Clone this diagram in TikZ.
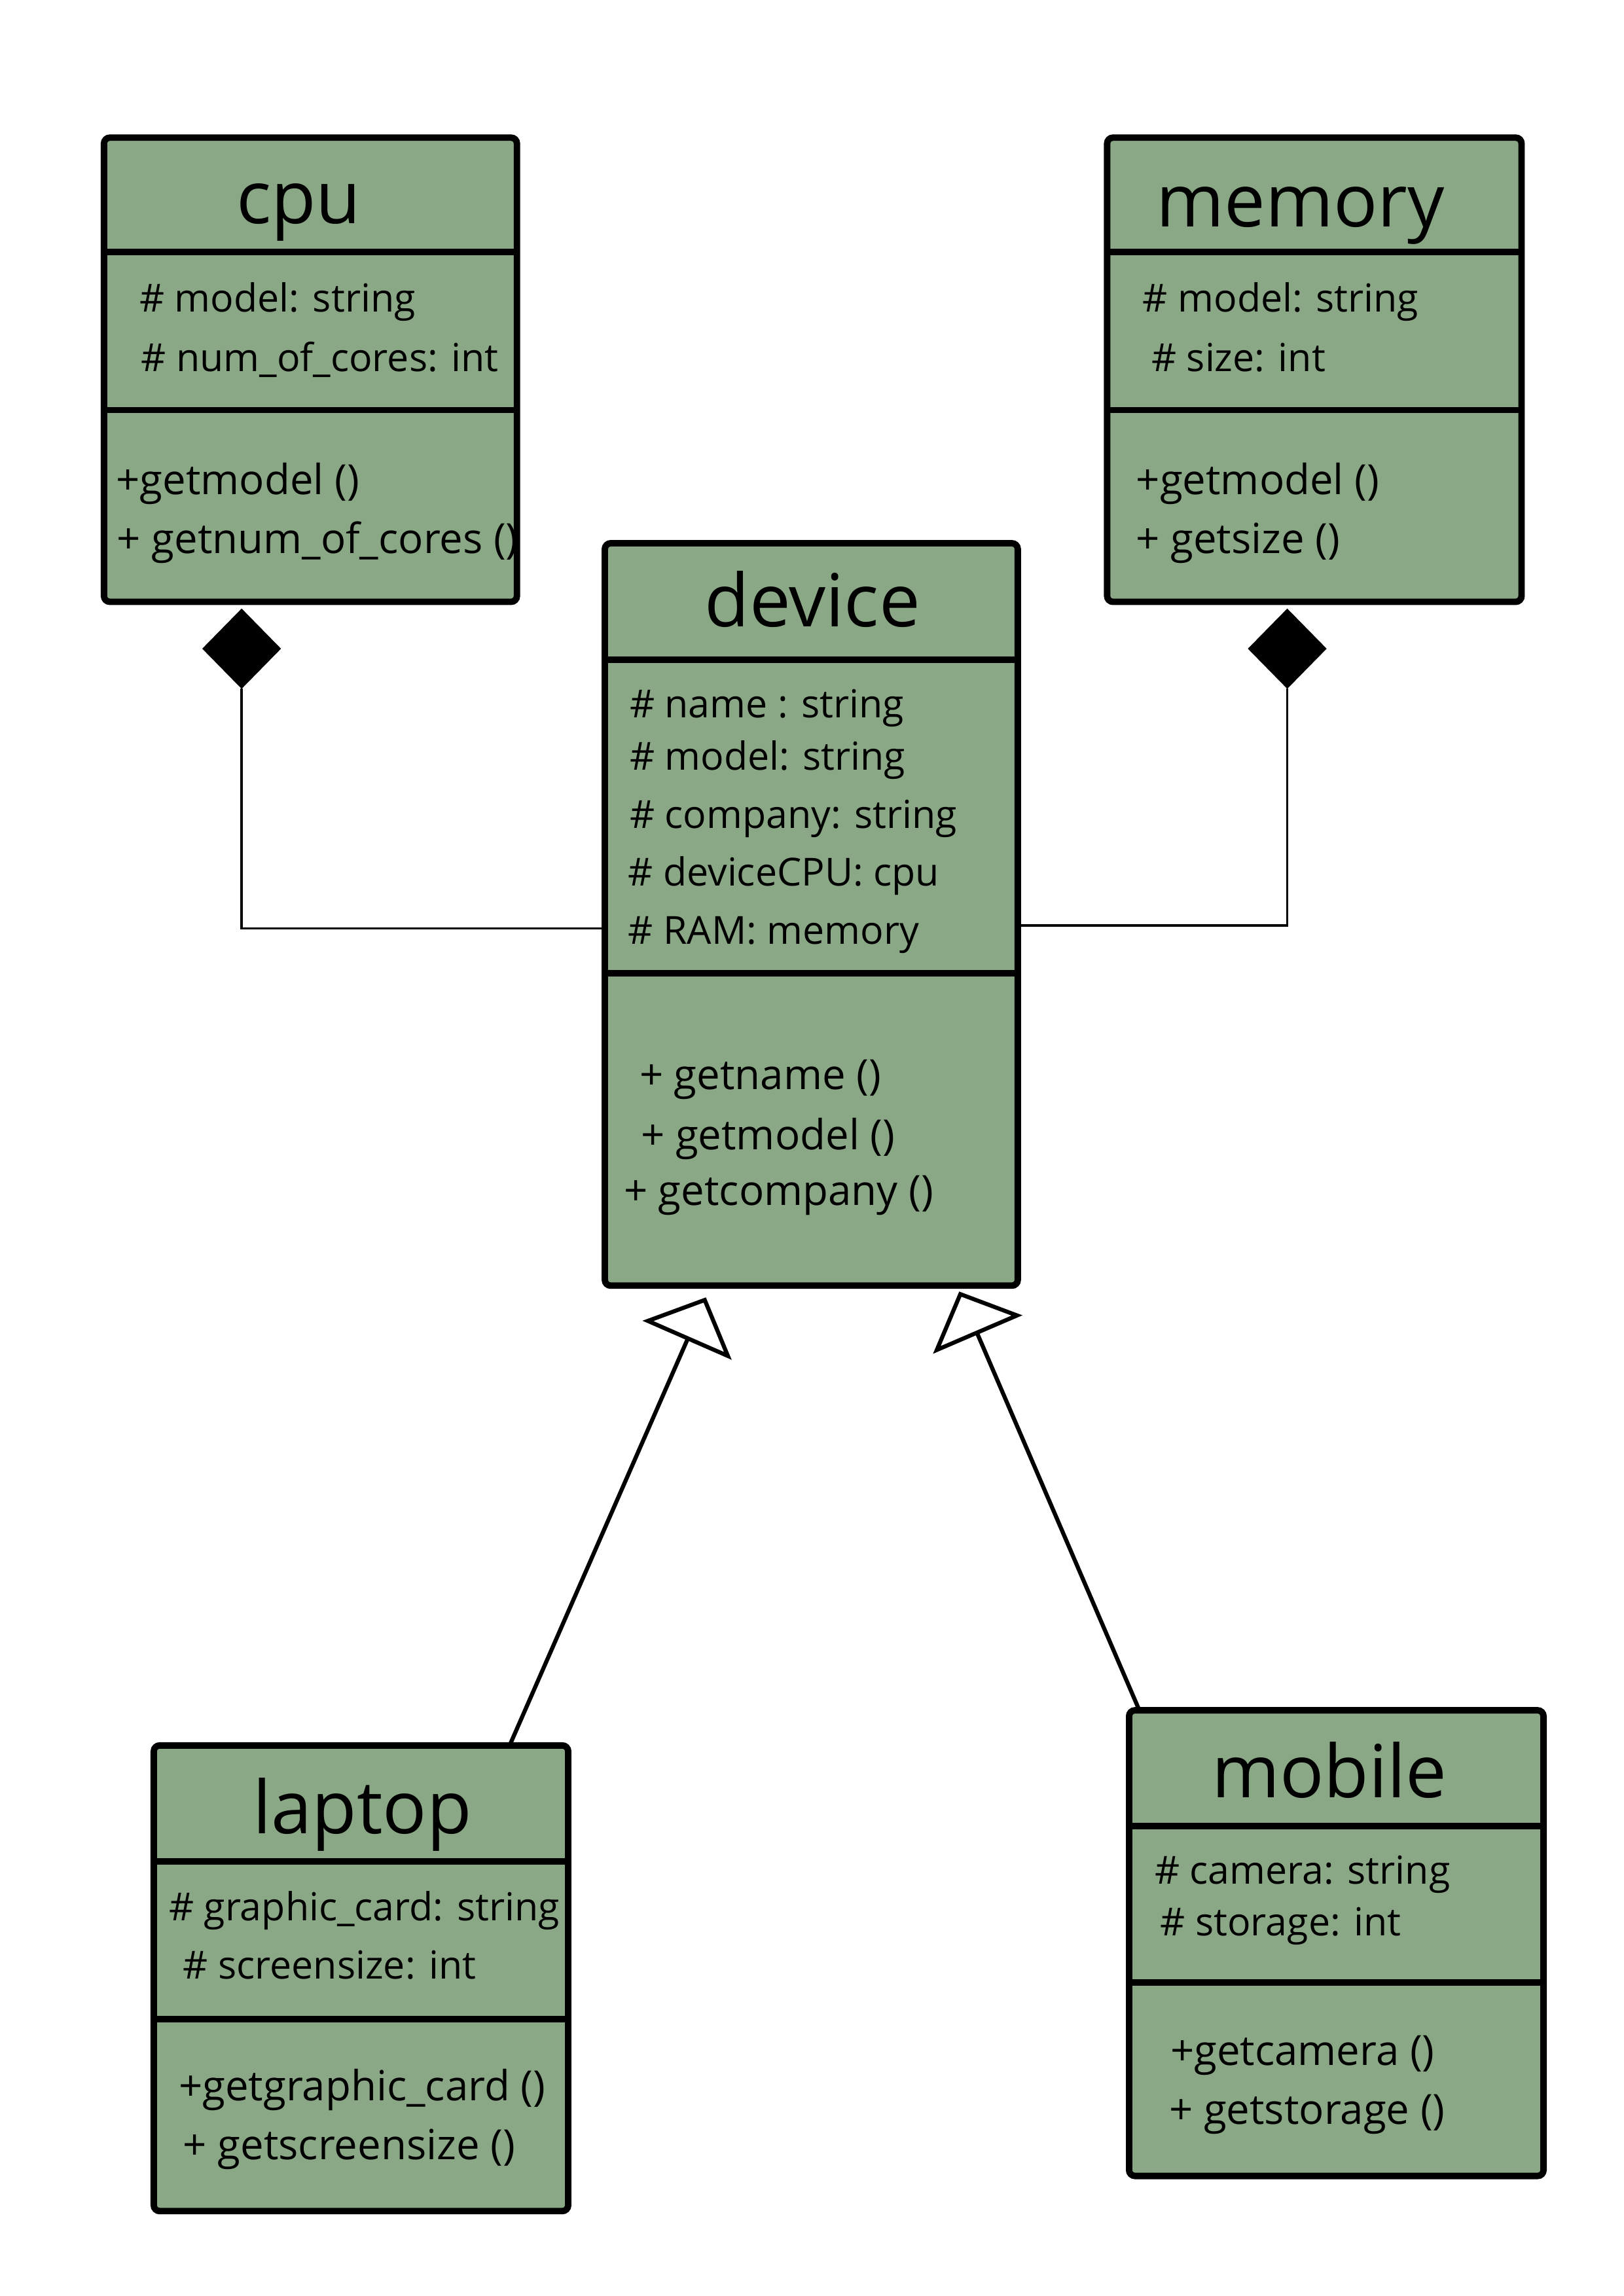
\documentclass[tikz,border=0pt]{standalone}
\usepackage{fontspec}
\setmainfont{Open Sans}
\usetikzlibrary{arrows.meta,shapes.geometric,fit}
\definecolor{boxgreen}{RGB}{139,168,134}
\begin{document}
\begin{tikzpicture}[x=0.5pt,y=-0.5pt,
  classbox/.style={draw, line width=2.2pt, fill=boxgreen, rounded corners=2pt, inner sep=0pt, outer sep=0pt},
  sepline/.style={line width=2.2pt},
  ctitle/.style={anchor=base, font=\fontsize{25}{29}\selectfont, inner sep=0pt},
  attr/.style={anchor=base west, font=\fontsize{13.2}{15}\selectfont, inner sep=0pt},
  meth/.style={anchor=base west, font=\fontsize{14.2}{16}\selectfont, inner sep=0pt},
  comp/.style={line width=0.8pt},
  dia/.style={diamond, fill=black, draw=black, inner sep=0pt, minimum width=26.5pt, minimum height=27pt},
  inh/.style={line width=1.4pt, line join=round, -{Triangle[open, length=16pt, width=33pt]}}
]
\useasboundingbox (0,0) rectangle (1108.6,1568);

% ---- cpu ----
\node[classbox, fit={(71,94) (353,411)}] (cpu) {};
\draw[sepline] (cpu.west |- 0,172) -- (cpu.east |- 0,172);
\draw[sepline] (cpu.west |- 0,280) -- (cpu.east |- 0,280);
\node[ctitle] (cpuT) at (204,152.5) {cpu};
\node[attr] (cpuA1) at (95,213) {\# model: string};
\node[attr] (cpuA2) at (96,253.5) {\# num\_of\_cores: int};
\node[meth] (cpuM1) at (79,337.5) {+getmodel ()};
\node[meth] (cpuM2) at (79.5,377.7) {+ getnum\_of\_cores ()};

% ---- memory ----
\node[classbox, fit={(756,94) (1039,411)}] (memory) {};
\draw[sepline] (memory.west |- 0,172) -- (memory.east |- 0,172);
\draw[sepline] (memory.west |- 0,280) -- (memory.east |- 0,280);
\node[ctitle] (memT) at (888,155) {memory};
\node[attr] (memA1) at (780,213) {\# model: string};
\node[attr] (memA2) at (786,253.5) {\# size: int};
\node[meth] (memM1) at (775.4,337.5) {+getmodel ()};
\node[meth] (memM2) at (775.4,377.7) {+ getsize ()};

% ---- device ----
\node[classbox, fit={(413,371) (695,878)}] (device) {};
\draw[sepline] (device.west |- 0,450.4) -- (device.east |- 0,450.4);
\draw[sepline] (device.west |- 0,664.6) -- (device.east |- 0,664.6);
\node[ctitle] (devT) at (554.8,428) {device};
\node[attr] (devA1) at (429.6,490) {\# name : string};
\node[attr] (devA2) at (429.6,526) {\# model: string};
\node[attr] (devA3) at (429.6,565.5) {\# company: string};
\node[attr] (devA4) at (428.6,605) {\# deviceCPU: cpu};
\node[attr] (devA5) at (428.6,644.6) {\# RAM: memory};
\node[meth] (devM1) at (436.3,744) {+ getname ()};
\node[meth] (devM2) at (437.3,785) {+ getmodel ()};
\node[meth] (devM3) at (425.6,823) {+ getcompany ()};

% ---- laptop ----
\node[classbox, fit={(105,1192) (388,1510)}] (laptop) {};
\draw[sepline] (laptop.west |- 0,1271.3) -- (laptop.east |- 0,1271.3);
\draw[sepline] (laptop.west |- 0,1379) -- (laptop.east |- 0,1379);
\node[ctitle] (lapT) at (247.5,1252) {laptop};
\node[attr] (lapA1) at (115,1311.6) {\# graphic\_card: string};
\node[attr] (lapA2) at (124.7,1351.4) {\# screensize: int};
\node[meth] (lapM1) at (121.7,1434.4) {+getgraphic\_card ()};
\node[meth] (lapM2) at (124.7,1474.7) {+ getscreensize ()};

% ---- mobile ----
\node[classbox, fit={(771,1168) (1054,1486)}] (mobile) {};
\draw[sepline] (mobile.west |- 0,1247) -- (mobile.east |- 0,1247);
\draw[sepline] (mobile.west |- 0,1354) -- (mobile.east |- 0,1354);
\node[ctitle] (mobT) at (907.7,1227.4) {mobile};
\node[attr] (mobA1) at (788.2,1286.7) {\# camera: string};
\node[attr] (mobA2) at (792,1322) {\# storage: int};
\node[meth] (mobM1) at (798.8,1410.3) {+getcamera ()};
\node[meth] (mobM2) at (798,1450.5) {+ getstorage ()};

% ---- composition ----
\node[dia] (cpudia) at (165,443) {};
\node[dia] (memdia) at (879,443) {};
\draw[comp] (cpudia.south) |- (device.west |- 0,634);
\draw[comp] (memdia.south) |- (device.east |- 0,632);

% ---- inheritance ----
\coordinate (laptip) at (482,886);
\coordinate (mobtip) at (655,882);
\draw[inh] (laptop.north -| 348,0) -- (laptip);
\draw[inh] (mobile.north -| 778,0) -- (mobtip);
\end{tikzpicture}
\end{document}
